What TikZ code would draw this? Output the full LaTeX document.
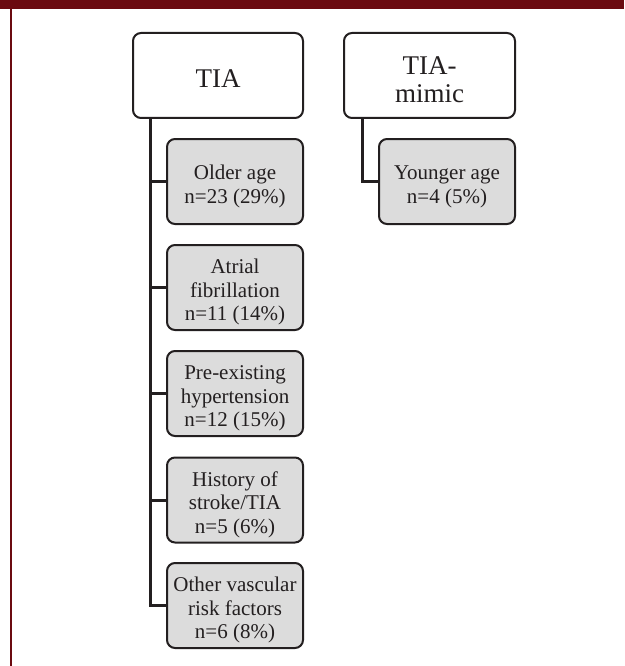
\documentclass[tikz,border=0pt]{standalone}
\usepackage{fontspec}
\setmainfont{Liberation Serif}
\definecolor{frame}{HTML}{6B0A10}
\definecolor{txt}{HTML}{231F20}
\definecolor{boxgray}{HTML}{DCDCDC}
\newcommand{\lowtext}[2]{\raisebox{-#1}[\height][\depth]{\begin{tabular}{@{}c@{}}#2\end{tabular}}}
\begin{document}
\begin{tikzpicture}[x=1pt,y=-1pt,
  topbox/.style={draw=txt,line width=2pt,rounded corners=8pt,fill=white,
    minimum width=170pt,minimum height=85pt,inner sep=0pt,text=txt,
    font=\fontsize{27}{28}\selectfont},
  subbox/.style={draw=txt,line width=2pt,rounded corners=8pt,fill=boxgray,
    minimum width=136pt,minimum height=85pt,inner sep=0pt,text=txt,
    font=\fontsize{21}{23.7}\selectfont},
  conn/.style={draw=txt,line width=3pt}]
\useasboundingbox (0,0) rectangle (624,666);
\fill[frame] (0,0) rectangle (624,9);
\fill[frame] (10,9) rectangle (12,666);
\node[topbox] (tia) at (218,75.5) {\lowtext{6pt}{TIA}};
\node[topbox,minimum width=171pt] (mimic) at (429.5,75.5) {\lowtext{7pt}{TIA-\\mimic}};
\node[subbox] (c1) at (235,181.5) {\lowtext{5pt}{Older age\\n=23 (29\%)}};
\node[subbox] (c2) at (235,287.5) {\lowtext{5pt}{Atrial\\fibrillation\\n=11 (14\%)}};
\node[subbox] (c3) at (235,393.5) {\lowtext{5pt}{Pre-existing\\hypertension\\n=12 (15\%)}};
\node[subbox] (c4) at (235,500) {\lowtext{5pt}{History of\\stroke/TIA\\n=5 (6\%)}};
\node[subbox] (c5) at (235,605.5) {\lowtext{5pt}{Other vascular\\risk factors\\n=6 (8\%)}};
\node[subbox] (y1) at (447,181.5) {\lowtext{5pt}{Younger age\\n=4 (5\%)}};
\draw[conn] ([xshift=18pt]tia.south west) |- (c1.west);
\draw[conn] ([xshift=18pt]tia.south west) |- (c2.west);
\draw[conn] ([xshift=18pt]tia.south west) |- (c3.west);
\draw[conn] ([xshift=18pt]tia.south west) |- (c4.west);
\draw[conn] ([xshift=18pt]tia.south west) |- (c5.west);
\draw[conn] ([xshift=19pt]mimic.south west) |- (y1.west);
\end{tikzpicture}
\end{document}
